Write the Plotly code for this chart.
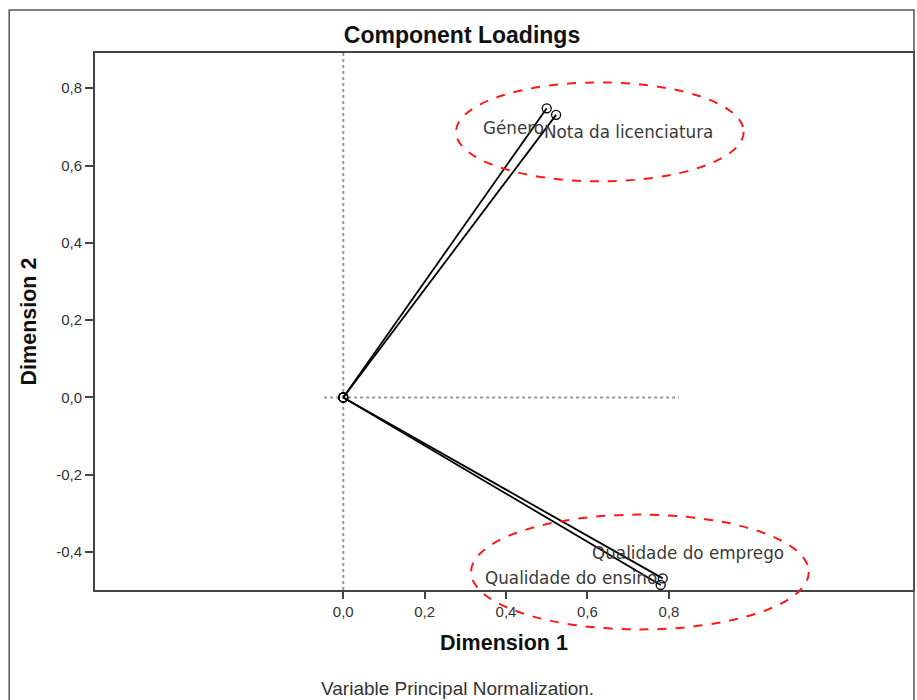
import plotly.graph_objects as go

# Data: component loadings
variables = ["Género", "Nota da licenciatura", "Qualidade do emprego", "Qualidade do ensino"]
dim1 = [0.500, 0.523, 0.785, 0.780]
dim2 = [0.748, 0.731, -0.468, -0.485]

x_ticks = [0.0, 0.2, 0.4, 0.6, 0.8]
x_tick_labels = ["0,0", "0,2", "0,4", "0,6", "0,8"]
y_ticks = [-0.4, -0.2, 0.0, 0.2, 0.4, 0.6, 0.8]
y_tick_labels = ["-0,4", "-0,2", "0,0", "0,2", "0,4", "0,6", "0,8"]

X_RANGE = [-0.610, 1.400]
Y_RANGE = [-0.498, 0.891]

# label offsets (pixels) relative to the point
label_style = {
    "Género": dict(xanchor="right", xshift=-1, yshift=-20),
    "Nota da licenciatura": dict(xanchor="left", xshift=-14, yshift=-17),
    "Qualidade do emprego": dict(xanchor="left", xshift=-73, yshift=25),
    "Qualidade do ensino": dict(xanchor="left", xshift=-178, yshift=7),
}

W, H = 917, 700
ML, MR, MT, MB = 95, 2, 53, 110
PW, PH = W - ML - MR, H - MT - MB

fig = go.Figure()

for name, x, y in zip(variables, dim1, dim2):
    fig.add_trace(go.Scatter(
        x=[0, x], y=[0, y], mode="lines+markers", name=name,
        line=dict(color="black", width=1.8),
        marker=dict(symbol="circle-open", size=9, color="black", line=dict(width=1.3)),
        showlegend=False, hoverinfo="skip",
    ))

for name, x, y in zip(variables, dim1, dim2):
    st = label_style[name]
    fig.add_annotation(x=x, y=y, xref="x", yref="y", text=name, showarrow=False,
                       yanchor="middle",
                       font=dict(family="DejaVu Sans", size=16.8, color="#3a3a3a"),
                       **st)


def to_paper_x(v):
    return (v - X_RANGE[0]) / (X_RANGE[1] - X_RANGE[0])


def to_paper_y(v):
    return (v - Y_RANGE[0]) / (Y_RANGE[1] - Y_RANGE[0])


# highlight ellipses (data coordinates, converted to paper so they are not clipped)
ellipses = [(0.277, 0.984, 0.559, 0.815), (0.314, 1.144, -0.600, -0.303)]
for x0, x1, y0, y1 in ellipses:
    fig.add_shape(type="circle", xref="paper", yref="paper",
                  x0=to_paper_x(x0), x1=to_paper_x(x1), y0=to_paper_y(y0), y1=to_paper_y(y1),
                  line=dict(color="#ff1a1a", width=2, dash="dash"), layer="above")

# reference lines
fig.add_shape(type="line", xref="x", yref="y domain", x0=0, x1=0, y0=0, y1=1,
              line=dict(color="#999999", width=2, dash="dot"), layer="below")
fig.add_shape(type="line", xref="x", yref="y", x0=-0.047, x1=0.825, y0=0, y1=0,
              line=dict(color="#999999", width=2, dash="dot"), layer="below")

# outer frame
fig.add_shape(type="rect", xref="paper", yref="paper",
              x0=(9 - ML) / PW, x1=(916 - ML) / PW,
              y0=-(H + 5 - (H - MB)) / PH, y1=1 + (MT - 10) / PH,
              line=dict(color="#555555", width=1.5))

fig.add_annotation(text="Variable Principal Normalization.", xref="paper", yref="paper",
                   x=(458 - ML) / PW, y=-(688 - (H - MB)) / PH,
                   showarrow=False, xanchor="center", yanchor="middle",
                   font=dict(family="Liberation Sans, Arial", size=19, color="#333333"))

fig.update_layout(
    width=W, height=H,
    margin=dict(l=ML, r=MR, t=MT, b=MB),
    paper_bgcolor="white", plot_bgcolor="white",
    font=dict(family="Liberation Sans, Arial", color="#222222"),
    title=dict(text="<b>Component Loadings</b>", x=462 / W, xref="container", xanchor="center",
               y=1 - 35 / H, yref="container", yanchor="middle",
               font=dict(size=23, color="#111111")),
    xaxis=dict(range=X_RANGE, tickvals=x_ticks, ticktext=x_tick_labels,
               showgrid=False, zeroline=False, showline=True, linecolor="#444444", linewidth=2,
               mirror=True, ticks="outside", ticklen=7, tickwidth=2, tickcolor="#444444",
               tickfont=dict(size=15, color="#333333"),
               title=dict(text="<b>Dimension 1</b>", font=dict(size=21.5, color="#111111"), standoff=16)),
    yaxis=dict(range=Y_RANGE, tickvals=y_ticks, ticktext=y_tick_labels,
               showgrid=False, zeroline=False, showline=True, linecolor="#444444", linewidth=2,
               mirror=True, ticks="outside", ticklen=8, tickwidth=2, tickcolor="#444444",
               tickfont=dict(size=15, color="#333333"),
               title=dict(text="<b>Dimension 2</b>", font=dict(size=21.5, color="#111111"), standoff=14)),
)

fig.write_html("out.html", config={"displayModeBar": False},
               post_script="document.body.style.margin='0';")
